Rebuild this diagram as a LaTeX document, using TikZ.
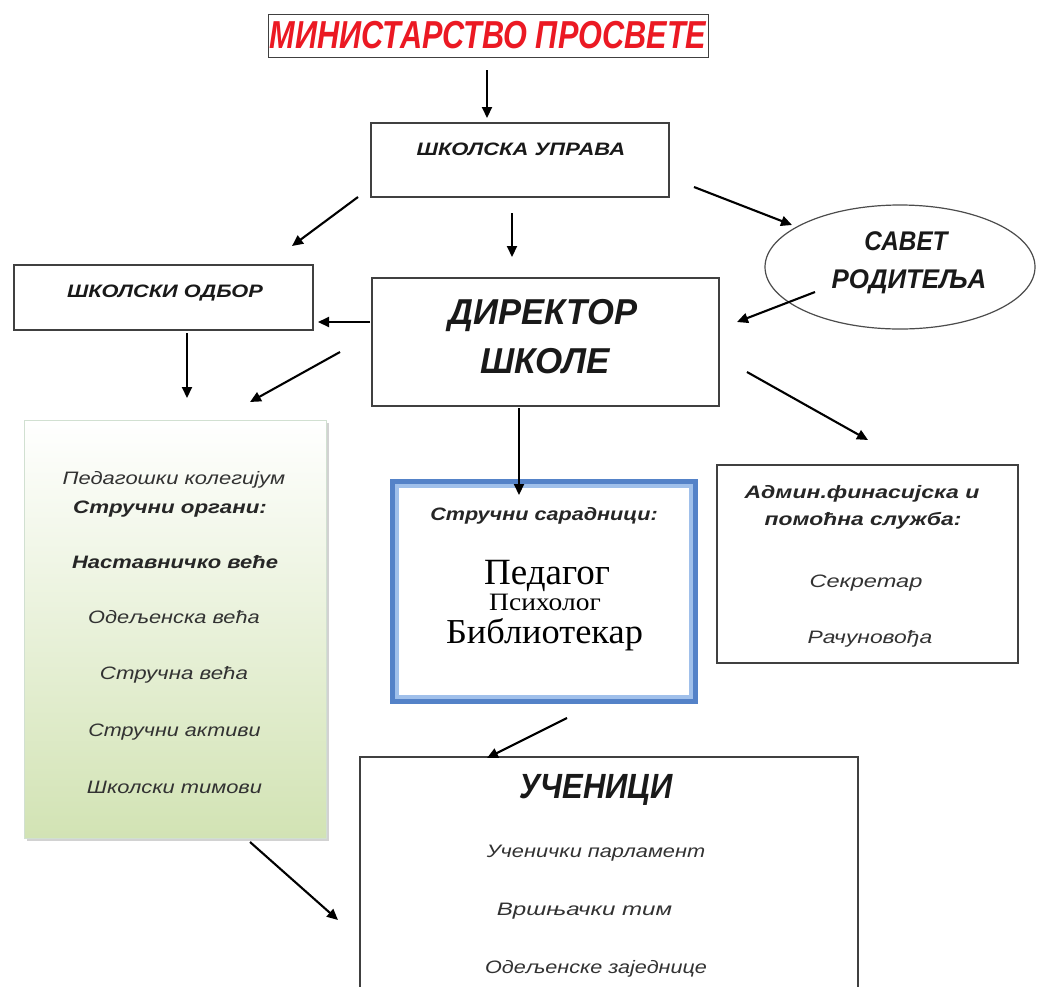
\documentclass[tikz,border=0pt]{standalone}
\usepackage{fontspec}
\setmainfont{Liberation Sans}
\newfontfamily\serifcyr{Liberation Serif}
\usetikzlibrary{arrows.meta,shapes.geometric,shadows}
\definecolor{titlered}{RGB}{235,25,35}
\definecolor{txtgray}{RGB}{50,50,50}
\definecolor{greenbot}{RGB}{210,227,180}
\definecolor{blueout}{RGB}{84,130,200}
\definecolor{bluein}{RGB}{160,192,235}
\newcommand{\sx}[2]{\scalebox{#1}[1]{#2}}
\begin{document}
\begin{tikzpicture}[x=1pt,y=-1pt,
  box/.style={draw=black!75,line width=1.3pt,rectangle,inner sep=0pt},
  arr/.style={line width=2.1pt,-{Triangle[length=11pt,width=10pt]}},
  bi/.style={anchor=base,font=\bfseries\itshape,text=black!90,inner sep=0pt},
  it/.style={anchor=base,font=\itshape\fontsize{18}{18}\selectfont,text=txtgray,inner sep=0pt},
  lb/.style={anchor=base,font=\bfseries\itshape\fontsize{18}{18}\selectfont,text=black!85,inner sep=0pt},
  sr/.style={anchor=base,text=black,inner sep=0pt}]
\useasboundingbox (0,0) rectangle (1038,986);
\clip (0,0) rectangle (1038,986);
\fill[white] (0,0) rectangle (1038,986);

% boxes
\node[box,line width=1pt,minimum width=440,minimum height=43] (min) at (488,35.5) {};
\node[box,minimum width=298,minimum height=74] (upr) at (520,160) {};
\node[box,minimum width=299,minimum height=65] (odb) at (163.5,297.5) {};
\node[box,minimum width=347,minimum height=128] (dir) at (545.5,342) {};
\node[draw=black!70,line width=1.2pt,ellipse,minimum width=270,minimum height=124,inner sep=0pt] (sav) at (900,267) {};
\node[rectangle,draw=green!20!gray!30,line width=0.6pt,top color=white,bottom color=greenbot,minimum width=302,minimum height=418,drop shadow={shadow xshift=3pt,shadow yshift=-3pt,opacity=0.35}] (grn) at (175,629) {};
\node[rectangle,draw=blueout,line width=5pt,minimum width=303,minimum height=220] (blu) at (544,591) {};
\node[rectangle,draw=bluein,line width=4pt,minimum width=294,minimum height=211] (blu2) at (544,591) {};
\node[box,minimum width=301,minimum height=198] (adm) at (867.5,564) {};
\node[box,minimum width=498,minimum height=243] (uce) at (609,878.5) {};

% texts
\node[bi,text=titlered,font=\bfseries\itshape\fontsize{39}{39}\selectfont] (tmin) at (488,48) {\sx{0.786}{МИНИСТАРСТВО ПРОСВЕТЕ}};
\node[bi,font=\bfseries\itshape\fontsize{18}{18}\selectfont] (tupr) at (521,155) {\sx{1.22}{ШКОЛСКА УПРАВА}};
\node[bi,font=\bfseries\itshape\fontsize{18}{18}\selectfont] (todb) at (165,297) {\sx{1.21}{ШКОЛСКИ ОДБОР}};
\node[bi,font=\bfseries\itshape\fontsize{36}{36}\selectfont] (tdir1) at (543,324) {\sx{0.96}{ДИРЕКТОР}};
\node[bi,font=\bfseries\itshape\fontsize{36}{36}\selectfont] (tdir2) at (545,373) {\sx{0.97}{ШКОЛЕ}};
\node[bi,font=\bfseries\itshape\fontsize{27}{27}\selectfont] (tsav1) at (906,250) {\sx{0.9}{САВЕТ}};
\node[bi,font=\bfseries\itshape\fontsize{27}{27}\selectfont] (tsav2) at (909,288) {\sx{0.96}{РОДИТЕЉА}};

\node[it] (g1) at (174,484) {\sx{1.22}{Педагошки колегијум}};
\node[lb] (g2) at (170,513) {\sx{1.24}{Стручни органи:}};
\node[lb] (g3) at (175,568) {\sx{1.22}{Наставничко веће}};
\node[it] (g4) at (174,623) {\sx{1.21}{Одељенска већа}};
\node[it] (g5) at (174,679) {\sx{1.24}{Стручна већа}};
\node[it] (g6) at (174.5,736) {\sx{1.2}{Стручни активи}};
\node[it] (g7) at (174.5,793) {\sx{1.215}{Школски тимови}};

\node[lb] (b1) at (544,520) {\sx{1.2}{Стручни сарадници:}};
\node[sr,font=\serifcyr\fontsize{37}{37}\selectfont] (b2) at (547,584) {Педагог};
\node[sr,font=\serifcyr\fontsize{25}{25}\selectfont] (b3) at (545,610) {\sx{1.1}{Психолог}};
\node[sr,font=\serifcyr\fontsize{35}{35}\selectfont] (b4) at (544.5,643) {\sx{1.04}{Библиотекар}};

\node[lb] (r1) at (862,498) {\sx{1.28}{Админ.финасијска и}};
\node[lb] (r2) at (863,525) {\sx{1.27}{помоћна служба:}};
\node[it] (r3) at (866,587) {\sx{1.31}{Секретар}};
\node[it] (r4) at (870,643) {\sx{1.27}{Рачуновођа}};

\node[bi,font=\bfseries\itshape\fontsize{35}{35}\selectfont] (u0) at (596,798) {\sx{0.885}{УЧЕНИЦИ}};
\node[it] (u1) at (596,857) {\sx{1.21}{Ученички парламент}};
\node[it] (u2) at (584.5,915) {\sx{1.34}{Вршњачки тим}};
\node[it] (u3) at (596,973) {\sx{1.2}{Одељенске заједнице}};

% arrow end points
\coordinate (a1s) at (487,70);  \coordinate (a1e) at (487,118);
\coordinate (a2s) at (358,197); \coordinate (a2e) at (292,246);
\coordinate (a3s) at (512,213); \coordinate (a3e) at (512,257);
\coordinate (a4s) at (694,187); \coordinate (a4e) at (792,225);
\coordinate (a5s) at (815,292); \coordinate (a5e) at (737,322);
\coordinate (a6s) at (370,322); \coordinate (a6e) at (318,322);
\coordinate (a7s) at (187,333); \coordinate (a7e) at (187,398);
\coordinate (a8s) at (340,352); \coordinate (a8e) at (250,402);
\coordinate (a9s) at (747,372); \coordinate (a9e) at (868,440);
\coordinate (a10s) at (519,408); \coordinate (a10e) at (519,495);
\coordinate (a11s) at (567,718); \coordinate (a11e) at (487,758);
\coordinate (a12s) at (250,842); \coordinate (a12e) at (338,920);

\draw[arr] (a1s) -- (a1e);
\draw[arr] (a2s) -- (a2e);
\draw[arr] (a3s) -- (a3e);
\draw[arr] (a4s) -- (a4e);
\draw[arr] (a5s) -- (a5e);
\draw[arr] (a6s) -- (a6e);
\draw[arr] (a7s) -- (a7e);
\draw[arr] (a8s) -- (a8e);
\draw[arr] (a9s) -- (a9e);
\draw[arr] (a10s) -- (a10e);
\draw[arr] (a11s) -- (a11e);
\draw[arr] (a12s) -- (a12e);
\end{tikzpicture}
\end{document}
